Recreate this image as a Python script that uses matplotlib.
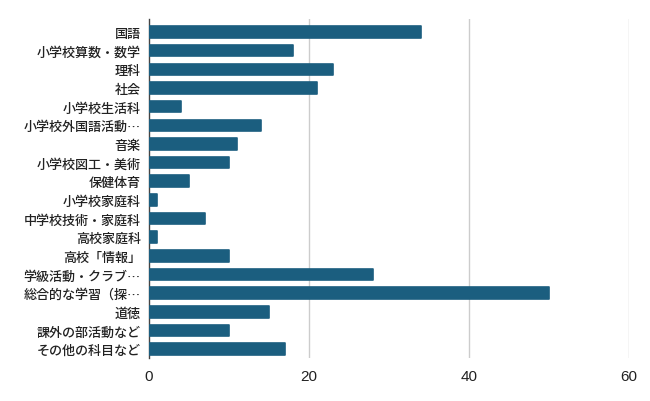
import matplotlib
matplotlib.use("Agg")
import matplotlib.pyplot as plt

plt.rcParams["font.family"] = ["Noto Sans CJK JP", "DejaVu Sans"]

categories = [
    "国語", "小学校算数・数学", "理科", "社会", "小学校生活科",
    "小学校外国語活動…", "音楽", "小学校図工・美術", "保健体育",
    "小学校家庭科", "中学校技術・家庭科", "高校家庭科", "高校「情報」",
    "学級活動・クラブ…", "総合的な学習（探…", "道徳", "課外の部活動など",
    "その他の科目など",
]
counts = [34, 18, 23, 21, 4, 14, 11, 10, 5, 1, 7, 1, 10, 28, 50, 15, 10, 17]
x_ticks = [0, 20, 40, 60]

BAR = "#1b5e7f"

fig = plt.figure(figsize=(6.5, 4.02), dpi=100)
ax = fig.add_axes([149 / 650, 1 - 359 / 402, 480 / 650, 339 / 402])

y = list(range(len(categories)))
ax.barh(y, counts, height=0.62, color=BAR, edgecolor=BAR, linewidth=1.2,
        joinstyle="round", zorder=3)

ax.set_ylim(len(categories) - 0.52, -0.7)
ax.set_xlim(0, 60)
ax.set_yticks(y)
ax.set_yticklabels(categories, fontsize=9.4, fontweight="medium")
ax.set_xticks(x_ticks)
ax.set_xticklabels([str(v) for v in x_ticks], fontsize=11,
                   family=["Liberation Sans", "DejaVu Sans"])
ax.tick_params(axis="both", length=0, colors="#222222")
ax.tick_params(axis="y", pad=6)
ax.tick_params(axis="x", pad=8)

ax.grid(True, axis="x", color="#cccccc", lw=1, zorder=0)
ax.xaxis.get_gridlines()[0].set_visible(False)
for s in ["top", "right", "bottom"]:
    ax.spines[s].set_visible(False)
ax.spines["left"].set_color("#444444")
ax.spines["left"].set_linewidth(1)

fig.savefig("out.png", dpi=100)
